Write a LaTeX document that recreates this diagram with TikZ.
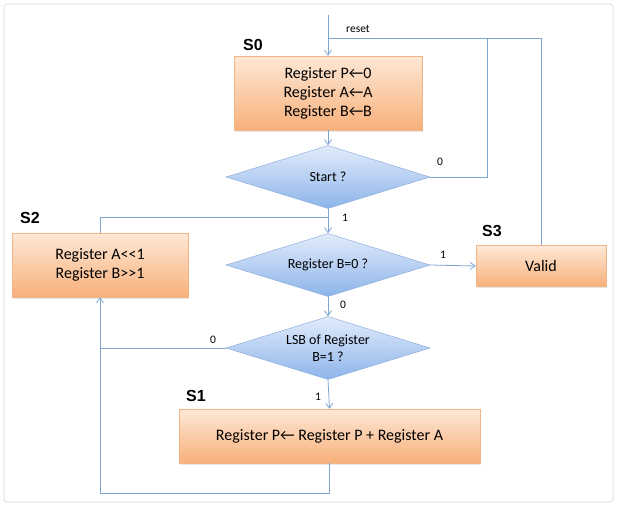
\documentclass[tikz,border=0pt]{standalone}
\usepackage{fontspec}
\setmainfont{Carlito}
\newfontfamily\labelfont{Liberation Sans}
\usetikzlibrary{shapes.geometric,arrows.meta,shadows}
\definecolor{flowline}{HTML}{7FA6D3}
\definecolor{boxtop}{HTML}{FDE8D6}
\definecolor{boxbottom}{HTML}{F8B07A}
\definecolor{boxedge}{HTML}{F0B689}
\definecolor{decidetop}{HTML}{E2ECFB}
\definecolor{decidebottom}{HTML}{8DB4EA}
\definecolor{decideedge}{HTML}{7EA5D6}
\definecolor{framegray}{HTML}{E2E2E2}
\tikzset{
    statebox/.style={
        rectangle,
        draw=boxedge,
        top color=boxtop,
        bottom color=boxbottom,
        drop shadow={opacity=0.18, shadow xshift=1pt, shadow yshift=-1.5pt},
        align=center,
        inner sep=0pt,
        font=\fontsize{16}{19}\selectfont
    },
    decision/.style={
        diamond,
        aspect=3.2,
        draw=decideedge,
        top color=decidetop,
        bottom color=decidebottom,
        align=center,
        inner sep=0pt,
        minimum width=204pt,
        minimum height=63pt,
        font=\fontsize{14}{17}\selectfont
    },
    statelabel/.style={
        font=\labelfont\bfseries\fontsize{16}{16}\selectfont
    },
    bitlabel/.style={
        font=\fontsize{11.5}{11.5}\selectfont
    },
    flow/.style={
        draw=flowline,
        line width=0.8pt
    },
    flowarrow/.style={
        flow,
        -{Straight Barb[length=5pt,width=7pt]}
    }
}

\begin{document}
\begin{tikzpicture}[x=1pt, y=-1pt]
\useasboundingbox (0,0) rectangle (617,506);
\fill[white] (0,0) rectangle (617,506);
\draw[framegray, line width=1pt, rounded corners=3pt] (4,4) rectangle (613,502);

\node[statebox, minimum width=188pt, minimum height=74pt] (s0) at (328,93)
    {Register P←0\\Register A←A\\Register B←B};
\node[decision] (start) at (328,177) {Start ?};
\node[statebox, minimum width=176pt, minimum height=64pt] (s2) at (100,265)
    {Register A<{}<1\\Register B>{}>1};
\node[decision] (bzero) at (328,265) {Register B=0 ?};
\node[statebox, minimum width=130pt, minimum height=41pt] (s3) at (541,266) {Valid};
\node[decision] (lsb) at (328,348) {LSB of Register\\B=1 ?};
\node[statebox, minimum width=301pt, minimum height=54pt] (s1) at (329.5,436)
    {Register P← Register P + Register A};

\node[statelabel] (s0lbl) at (253,45) {S0};
\node[statelabel] (s2lbl) at (30,218) {S2};
\node[statelabel] (s3lbl) at (492,231) {S3};
\node[statelabel] (s1lbl) at (196,396) {S1};

\coordinate (resettop) at (328,15);
\coordinate (resetjoin) at (328,38);
\coordinate (startback) at (487,38);
\coordinate (s2join) at (328,217);
\coordinate (lsbjoin) at (100,348);
\coordinate (bottomleft) at (100,493);

\draw[flowarrow] (resettop) -- (s0.north);
\draw[flowarrow] (s0.south) -- (start.north);
\draw[flow] (start.east) -| (startback);
\draw[flow] (s3.north) |- (resetjoin);
\draw[flowarrow] (start.south) -- (bzero.north);
\draw[flow] (s2.north) |- (s2join);
\draw[flowarrow] (bzero.east) -- (s3.west);
\draw[flowarrow] (bzero.south) -- (lsb.north);
\draw[flowarrow] (lsb.south) -- (s1.north);
\draw[flow] (lsb.west) -- (lsbjoin);
\draw[flowarrow] (s1.south) |- (bottomleft) -- (s2.south);

\node[bitlabel] (resetlbl) at (358,29) {reset};
\node[bitlabel] (startno) at (440,162) {0};
\node[bitlabel] (startyes) at (345,218) {1};
\node[bitlabel] (bzeroyes) at (443,255) {1};
\node[bitlabel] (bzerono) at (343,305) {0};
\node[bitlabel] (lsbno) at (213,340) {0};
\node[bitlabel] (lsbyes) at (318,397) {1};
\end{tikzpicture}
\end{document}
